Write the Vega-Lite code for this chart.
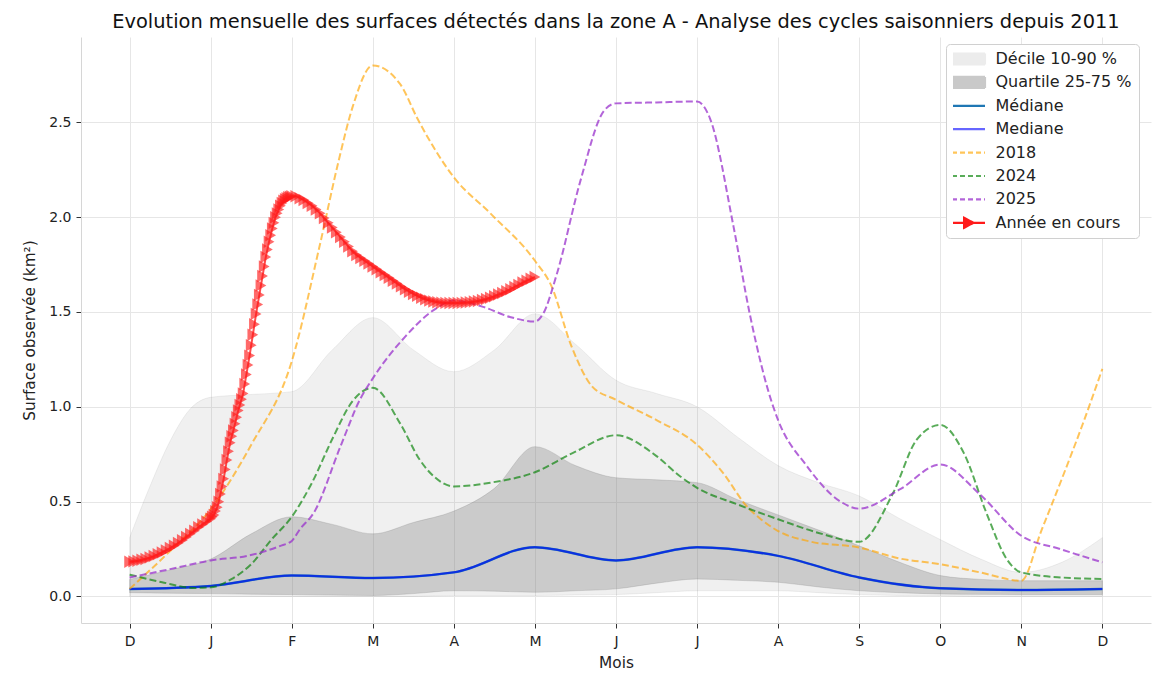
{
  "$schema": "https://vega.github.io/schema/vega-lite/v6.json",
  "width": 1070,
  "height": 586,
  "autosize": {"type": "none"},
  "padding": {"left": 81, "top": 37, "right": 12, "bottom": 60},
  "background": "white",
  "title": {"text": "Evolution mensuelle des surfaces détectés dans la zone A - Analyse des cycles saisonniers depuis 2011", "fontSize": 19.4, "fontWeight": "normal", "color": "#111", "anchor": "middle", "baseline": "alphabetic", "frame": "group", "offset": 10, "dy": 20},
  "datasets": {
    "bands": [
      {"serie": "Décile 10-90 %", "m": 0, "lo": 0, "hi": 0.31},
      {"serie": "Décile 10-90 %", "m": 0.25, "lo": 0, "hi": 0.58},
      {"serie": "Décile 10-90 %", "m": 0.5, "lo": 0, "hi": 0.82},
      {"serie": "Décile 10-90 %", "m": 0.75, "lo": 0, "hi": 0.99},
      {"serie": "Décile 10-90 %", "m": 1, "lo": 0, "hi": 1.05},
      {"serie": "Décile 10-90 %", "m": 1.5, "lo": 0, "hi": 1.065},
      {"serie": "Décile 10-90 %", "m": 2, "lo": 0, "hi": 1.08},
      {"serie": "Décile 10-90 %", "m": 2.5, "lo": 0, "hi": 1.3},
      {"serie": "Décile 10-90 %", "m": 3, "lo": 0, "hi": 1.47},
      {"serie": "Décile 10-90 %", "m": 3.5, "lo": 0, "hi": 1.3},
      {"serie": "Décile 10-90 %", "m": 4, "lo": 0.005, "hi": 1.185},
      {"serie": "Décile 10-90 %", "m": 4.5, "lo": 0.005, "hi": 1.3},
      {"serie": "Décile 10-90 %", "m": 5, "lo": 0.005, "hi": 1.49},
      {"serie": "Décile 10-90 %", "m": 5.5, "lo": 0.008, "hi": 1.33},
      {"serie": "Décile 10-90 %", "m": 6, "lo": 0.01, "hi": 1.14},
      {"serie": "Décile 10-90 %", "m": 6.5, "lo": 0.02, "hi": 1.07},
      {"serie": "Décile 10-90 %", "m": 7, "lo": 0.03, "hi": 1.0},
      {"serie": "Décile 10-90 %", "m": 7.5, "lo": 0.03, "hi": 0.84},
      {"serie": "Décile 10-90 %", "m": 8, "lo": 0.03, "hi": 0.69},
      {"serie": "Décile 10-90 %", "m": 8.5, "lo": 0.02, "hi": 0.6},
      {"serie": "Décile 10-90 %", "m": 9, "lo": 0.01, "hi": 0.53},
      {"serie": "Décile 10-90 %", "m": 9.5, "lo": 0.005, "hi": 0.41},
      {"serie": "Décile 10-90 %", "m": 10, "lo": 0.003, "hi": 0.3},
      {"serie": "Décile 10-90 %", "m": 10.5, "lo": 0, "hi": 0.197},
      {"serie": "Décile 10-90 %", "m": 11, "lo": 0, "hi": 0.127},
      {"serie": "Décile 10-90 %", "m": 11.5, "lo": 0, "hi": 0.18},
      {"serie": "Décile 10-90 %", "m": 12, "lo": 0, "hi": 0.31},
      {"serie": "Quartile 25-75 %", "m": 0, "lo": 0.02, "hi": 0.09},
      {"serie": "Quartile 25-75 %", "m": 0.5, "lo": 0.017, "hi": 0.14},
      {"serie": "Quartile 25-75 %", "m": 1, "lo": 0.015, "hi": 0.197},
      {"serie": "Quartile 25-75 %", "m": 1.5, "lo": 0.012, "hi": 0.33},
      {"serie": "Quartile 25-75 %", "m": 2, "lo": 0.01, "hi": 0.42},
      {"serie": "Quartile 25-75 %", "m": 2.5, "lo": 0.007, "hi": 0.38},
      {"serie": "Quartile 25-75 %", "m": 3, "lo": 0.005, "hi": 0.33},
      {"serie": "Quartile 25-75 %", "m": 3.5, "lo": 0.015, "hi": 0.39},
      {"serie": "Quartile 25-75 %", "m": 4, "lo": 0.03, "hi": 0.45},
      {"serie": "Quartile 25-75 %", "m": 4.5, "lo": 0.028, "hi": 0.57},
      {"serie": "Quartile 25-75 %", "m": 5, "lo": 0.022, "hi": 0.79},
      {"serie": "Quartile 25-75 %", "m": 5.5, "lo": 0.03, "hi": 0.69},
      {"serie": "Quartile 25-75 %", "m": 6, "lo": 0.04, "hi": 0.626},
      {"serie": "Quartile 25-75 %", "m": 6.5, "lo": 0.07, "hi": 0.615},
      {"serie": "Quartile 25-75 %", "m": 7, "lo": 0.092, "hi": 0.6},
      {"serie": "Quartile 25-75 %", "m": 7.5, "lo": 0.085, "hi": 0.51},
      {"serie": "Quartile 25-75 %", "m": 8, "lo": 0.075, "hi": 0.43},
      {"serie": "Quartile 25-75 %", "m": 8.5, "lo": 0.05, "hi": 0.35},
      {"serie": "Quartile 25-75 %", "m": 9, "lo": 0.03, "hi": 0.267},
      {"serie": "Quartile 25-75 %", "m": 9.5, "lo": 0.02, "hi": 0.18},
      {"serie": "Quartile 25-75 %", "m": 10, "lo": 0.013, "hi": 0.11},
      {"serie": "Quartile 25-75 %", "m": 10.5, "lo": 0.011, "hi": 0.09},
      {"serie": "Quartile 25-75 %", "m": 11, "lo": 0.01, "hi": 0.083},
      {"serie": "Quartile 25-75 %", "m": 11.5, "lo": 0.01, "hi": 0.083},
      {"serie": "Quartile 25-75 %", "m": 12, "lo": 0.01, "hi": 0.083}
    ],
    "lines": [
      {"serie": "Médiane", "m": 0, "v": 0.039}, {"serie": "Médiane", "m": 1, "v": 0.055}, {"serie": "Médiane", "m": 2, "v": 0.11}, {"serie": "Médiane", "m": 3, "v": 0.097}, {"serie": "Médiane", "m": 4, "v": 0.127}, {"serie": "Médiane", "m": 5, "v": 0.26}, {"serie": "Médiane", "m": 6, "v": 0.19}, {"serie": "Médiane", "m": 7, "v": 0.26}, {"serie": "Médiane", "m": 8, "v": 0.214}, {"serie": "Médiane", "m": 9, "v": 0.1}, {"serie": "Médiane", "m": 10, "v": 0.043}, {"serie": "Médiane", "m": 11, "v": 0.034}, {"serie": "Médiane", "m": 12, "v": 0.039},
      {"serie": "Mediane", "m": 0, "v": 0.039}, {"serie": "Mediane", "m": 1, "v": 0.055}, {"serie": "Mediane", "m": 2, "v": 0.11}, {"serie": "Mediane", "m": 3, "v": 0.097}, {"serie": "Mediane", "m": 4, "v": 0.127}, {"serie": "Mediane", "m": 5, "v": 0.26}, {"serie": "Mediane", "m": 6, "v": 0.19}, {"serie": "Mediane", "m": 7, "v": 0.26}, {"serie": "Mediane", "m": 8, "v": 0.214}, {"serie": "Mediane", "m": 9, "v": 0.1}, {"serie": "Mediane", "m": 10, "v": 0.043}, {"serie": "Mediane", "m": 11, "v": 0.034}, {"serie": "Mediane", "m": 12, "v": 0.039},
      {"serie": "2018", "m": 0, "v": 0.04}, {"serie": "2018", "m": 0.5, "v": 0.24}, {"serie": "2018", "m": 1, "v": 0.46}, {"serie": "2018", "m": 1.5, "v": 0.8}, {"serie": "2018", "m": 2, "v": 1.24}, {"serie": "2018", "m": 2.35, "v": 1.86}, {"serie": "2018", "m": 2.58, "v": 2.3}, {"serie": "2018", "m": 2.75, "v": 2.58}, {"serie": "2018", "m": 3, "v": 2.8}, {"serie": "2018", "m": 3.34, "v": 2.7}, {"serie": "2018", "m": 3.55, "v": 2.52}, {"serie": "2018", "m": 4, "v": 2.21}, {"serie": "2018", "m": 4.45, "v": 2.02}, {"serie": "2018", "m": 5, "v": 1.77}, {"serie": "2018", "m": 5.2, "v": 1.64}, {"serie": "2018", "m": 5.45, "v": 1.32}, {"serie": "2018", "m": 5.7, "v": 1.11}, {"serie": "2018", "m": 6, "v": 1.037}, {"serie": "2018", "m": 6.5, "v": 0.93}, {"serie": "2018", "m": 7, "v": 0.8}, {"serie": "2018", "m": 7.32, "v": 0.652}, {"serie": "2018", "m": 7.61, "v": 0.477}, {"serie": "2018", "m": 7.78, "v": 0.41}, {"serie": "2018", "m": 8, "v": 0.345}, {"serie": "2018", "m": 8.39, "v": 0.29}, {"serie": "2018", "m": 9, "v": 0.258}, {"serie": "2018", "m": 9.5, "v": 0.2}, {"serie": "2018", "m": 10, "v": 0.17}, {"serie": "2018", "m": 10.49, "v": 0.127}, {"serie": "2018", "m": 11, "v": 0.083}, {"serie": "2018", "m": 11.25, "v": 0.35}, {"serie": "2018", "m": 11.5, "v": 0.62}, {"serie": "2018", "m": 11.75, "v": 0.9}, {"serie": "2018", "m": 12, "v": 1.2},
      {"serie": "2024", "m": 0, "v": 0.115}, {"serie": "2024", "m": 0.4, "v": 0.075}, {"serie": "2024", "m": 0.8, "v": 0.045}, {"serie": "2024", "m": 1, "v": 0.048}, {"serie": "2024", "m": 1.25, "v": 0.09}, {"serie": "2024", "m": 1.5, "v": 0.17}, {"serie": "2024", "m": 1.75, "v": 0.3}, {"serie": "2024", "m": 2, "v": 0.42}, {"serie": "2024", "m": 2.25, "v": 0.6}, {"serie": "2024", "m": 2.5, "v": 0.83}, {"serie": "2024", "m": 2.75, "v": 1.03}, {"serie": "2024", "m": 3, "v": 1.1}, {"serie": "2024", "m": 3.34, "v": 0.91}, {"serie": "2024", "m": 3.58, "v": 0.72}, {"serie": "2024", "m": 3.75, "v": 0.634}, {"serie": "2024", "m": 4, "v": 0.58}, {"serie": "2024", "m": 4.45, "v": 0.6}, {"serie": "2024", "m": 5, "v": 0.655}, {"serie": "2024", "m": 5.47, "v": 0.757}, {"serie": "2024", "m": 6, "v": 0.85}, {"serie": "2024", "m": 6.5, "v": 0.74}, {"serie": "2024", "m": 6.79, "v": 0.634}, {"serie": "2024", "m": 7, "v": 0.573}, {"serie": "2024", "m": 7.5, "v": 0.485}, {"serie": "2024", "m": 8, "v": 0.407}, {"serie": "2024", "m": 8.5, "v": 0.335}, {"serie": "2024", "m": 9, "v": 0.288}, {"serie": "2024", "m": 9.42, "v": 0.547}, {"serie": "2024", "m": 9.71, "v": 0.827}, {"serie": "2024", "m": 10, "v": 0.905}, {"serie": "2024", "m": 10.29, "v": 0.757}, {"serie": "2024", "m": 10.57, "v": 0.44}, {"serie": "2024", "m": 10.82, "v": 0.197}, {"serie": "2024", "m": 11, "v": 0.127}, {"serie": "2024", "m": 11.5, "v": 0.1}, {"serie": "2024", "m": 12, "v": 0.092},
      {"serie": "2025", "m": 0, "v": 0.1}, {"serie": "2025", "m": 0.5, "v": 0.144}, {"serie": "2025", "m": 1, "v": 0.19}, {"serie": "2025", "m": 1.45, "v": 0.214}, {"serie": "2025", "m": 1.86, "v": 0.267}, {"serie": "2025", "m": 2, "v": 0.293}, {"serie": "2025", "m": 2.1, "v": 0.354}, {"serie": "2025", "m": 2.27, "v": 0.44}, {"serie": "2025", "m": 2.6, "v": 0.79}, {"serie": "2025", "m": 2.84, "v": 1.037}, {"serie": "2025", "m": 3, "v": 1.15}, {"serie": "2025", "m": 3.4, "v": 1.37}, {"serie": "2025", "m": 3.75, "v": 1.51}, {"serie": "2025", "m": 4, "v": 1.56}, {"serie": "2025", "m": 4.36, "v": 1.527}, {"serie": "2025", "m": 4.69, "v": 1.474}, {"serie": "2025", "m": 5, "v": 1.45}, {"serie": "2025", "m": 5.1, "v": 1.49}, {"serie": "2025", "m": 5.27, "v": 1.7}, {"serie": "2025", "m": 5.56, "v": 2.19}, {"serie": "2025", "m": 5.85, "v": 2.56}, {"serie": "2025", "m": 6, "v": 2.6}, {"serie": "2025", "m": 6.5, "v": 2.605}, {"serie": "2025", "m": 7, "v": 2.61}, {"serie": "2025", "m": 7.16, "v": 2.52}, {"serie": "2025", "m": 7.45, "v": 1.95}, {"serie": "2025", "m": 7.65, "v": 1.49}, {"serie": "2025", "m": 7.94, "v": 1.0}, {"serie": "2025", "m": 8, "v": 0.93}, {"serie": "2025", "m": 8.35, "v": 0.69}, {"serie": "2025", "m": 8.77, "v": 0.5}, {"serie": "2025", "m": 9, "v": 0.463}, {"serie": "2025", "m": 9.5, "v": 0.564}, {"serie": "2025", "m": 10, "v": 0.696}, {"serie": "2025", "m": 10.49, "v": 0.538}, {"serie": "2025", "m": 11, "v": 0.32}, {"serie": "2025", "m": 11.48, "v": 0.25}, {"serie": "2025", "m": 12, "v": 0.18}
    ],
    "current": [
      {"serie": "Année en cours", "m": 0, "v": 0.183}, {"serie": "Année en cours", "m": 0.05, "v": 0.185}, {"serie": "Année en cours", "m": 0.1, "v": 0.188}, {"serie": "Année en cours", "m": 0.15, "v": 0.193}, {"serie": "Année en cours", "m": 0.2, "v": 0.198}, {"serie": "Année en cours", "m": 0.25, "v": 0.205}, {"serie": "Année en cours", "m": 0.3, "v": 0.213}, {"serie": "Année en cours", "m": 0.35, "v": 0.222}, {"serie": "Année en cours", "m": 0.4, "v": 0.232}, {"serie": "Année en cours", "m": 0.45, "v": 0.243}, {"serie": "Année en cours", "m": 0.5, "v": 0.255}, {"serie": "Année en cours", "m": 0.55, "v": 0.268}, {"serie": "Année en cours", "m": 0.6, "v": 0.282}, {"serie": "Année en cours", "m": 0.65, "v": 0.297}, {"serie": "Année en cours", "m": 0.7, "v": 0.313}, {"serie": "Année en cours", "m": 0.75, "v": 0.33}, {"serie": "Année en cours", "m": 0.8, "v": 0.347}, {"serie": "Année en cours", "m": 0.85, "v": 0.365}, {"serie": "Année en cours", "m": 0.9, "v": 0.38}, {"serie": "Année en cours", "m": 0.95, "v": 0.395}, {"serie": "Année en cours", "m": 1, "v": 0.41},
      {"serie": "Année en cours", "m": 1.02, "v": 0.42}, {"serie": "Année en cours", "m": 1.04, "v": 0.43}, {"serie": "Année en cours", "m": 1.06, "v": 0.45}, {"serie": "Année en cours", "m": 1.08, "v": 0.47}, {"serie": "Année en cours", "m": 1.1, "v": 0.5}, {"serie": "Année en cours", "m": 1.12, "v": 0.54}, {"serie": "Année en cours", "m": 1.14, "v": 0.58}, {"serie": "Année en cours", "m": 1.16, "v": 0.62}, {"serie": "Année en cours", "m": 1.18, "v": 0.67}, {"serie": "Année en cours", "m": 1.2, "v": 0.72}, {"serie": "Année en cours", "m": 1.22, "v": 0.765}, {"serie": "Année en cours", "m": 1.24, "v": 0.81}, {"serie": "Année en cours", "m": 1.26, "v": 0.845}, {"serie": "Année en cours", "m": 1.28, "v": 0.875}, {"serie": "Année en cours", "m": 1.3, "v": 0.91}, {"serie": "Année en cours", "m": 1.32, "v": 0.945}, {"serie": "Année en cours", "m": 1.34, "v": 0.98}, {"serie": "Année en cours", "m": 1.36, "v": 1.01}, {"serie": "Année en cours", "m": 1.38, "v": 1.04}, {"serie": "Année en cours", "m": 1.4, "v": 1.07}, {"serie": "Année en cours", "m": 1.42, "v": 1.12}, {"serie": "Année en cours", "m": 1.44, "v": 1.17}, {"serie": "Année en cours", "m": 1.46, "v": 1.22}, {"serie": "Année en cours", "m": 1.48, "v": 1.27}, {"serie": "Année en cours", "m": 1.5, "v": 1.325}, {"serie": "Année en cours", "m": 1.52, "v": 1.38}, {"serie": "Année en cours", "m": 1.54, "v": 1.435}, {"serie": "Année en cours", "m": 1.56, "v": 1.49}, {"serie": "Année en cours", "m": 1.58, "v": 1.54}, {"serie": "Année en cours", "m": 1.6, "v": 1.59}, {"serie": "Année en cours", "m": 1.62, "v": 1.64}, {"serie": "Année en cours", "m": 1.64, "v": 1.69}, {"serie": "Année en cours", "m": 1.66, "v": 1.74}, {"serie": "Année en cours", "m": 1.68, "v": 1.79}, {"serie": "Année en cours", "m": 1.7, "v": 1.83}, {"serie": "Année en cours", "m": 1.72, "v": 1.87}, {"serie": "Année en cours", "m": 1.74, "v": 1.905}, {"serie": "Année en cours", "m": 1.76, "v": 1.94}, {"serie": "Année en cours", "m": 1.78, "v": 1.97}, {"serie": "Année en cours", "m": 1.8, "v": 2.0}, {"serie": "Année en cours", "m": 1.82, "v": 2.02}, {"serie": "Année en cours", "m": 1.84, "v": 2.04}, {"serie": "Année en cours", "m": 1.86, "v": 2.06}, {"serie": "Année en cours", "m": 1.88, "v": 2.075}, {"serie": "Année en cours", "m": 1.9, "v": 2.087}, {"serie": "Année en cours", "m": 1.92, "v": 2.095}, {"serie": "Année en cours", "m": 1.94, "v": 2.1}, {"serie": "Année en cours", "m": 1.96, "v": 2.105}, {"serie": "Année en cours", "m": 1.98, "v": 2.108}, {"serie": "Année en cours", "m": 2, "v": 2.11},
      {"serie": "Année en cours", "m": 2.05, "v": 2.11}, {"serie": "Année en cours", "m": 2.1, "v": 2.1}, {"serie": "Année en cours", "m": 2.15, "v": 2.09}, {"serie": "Année en cours", "m": 2.2, "v": 2.075}, {"serie": "Année en cours", "m": 2.25, "v": 2.06}, {"serie": "Année en cours", "m": 2.3, "v": 2.04}, {"serie": "Année en cours", "m": 2.35, "v": 2.02}, {"serie": "Année en cours", "m": 2.4, "v": 1.995}, {"serie": "Année en cours", "m": 2.45, "v": 1.97}, {"serie": "Année en cours", "m": 2.5, "v": 1.945}, {"serie": "Année en cours", "m": 2.55, "v": 1.92}, {"serie": "Année en cours", "m": 2.6, "v": 1.895}, {"serie": "Année en cours", "m": 2.65, "v": 1.87}, {"serie": "Année en cours", "m": 2.7, "v": 1.845}, {"serie": "Année en cours", "m": 2.75, "v": 1.82}, {"serie": "Année en cours", "m": 2.8, "v": 1.8}, {"serie": "Année en cours", "m": 2.85, "v": 1.785}, {"serie": "Année en cours", "m": 2.9, "v": 1.77}, {"serie": "Année en cours", "m": 2.95, "v": 1.755}, {"serie": "Année en cours", "m": 3, "v": 1.74}, {"serie": "Année en cours", "m": 3.05, "v": 1.725}, {"serie": "Année en cours", "m": 3.1, "v": 1.71}, {"serie": "Année en cours", "m": 3.15, "v": 1.695}, {"serie": "Année en cours", "m": 3.2, "v": 1.68}, {"serie": "Année en cours", "m": 3.25, "v": 1.665}, {"serie": "Année en cours", "m": 3.3, "v": 1.65}, {"serie": "Année en cours", "m": 3.35, "v": 1.635}, {"serie": "Année en cours", "m": 3.4, "v": 1.62}, {"serie": "Année en cours", "m": 3.45, "v": 1.607}, {"serie": "Année en cours", "m": 3.5, "v": 1.595}, {"serie": "Année en cours", "m": 3.55, "v": 1.585}, {"serie": "Année en cours", "m": 3.6, "v": 1.575}, {"serie": "Année en cours", "m": 3.65, "v": 1.567}, {"serie": "Année en cours", "m": 3.7, "v": 1.56}, {"serie": "Année en cours", "m": 3.75, "v": 1.555}, {"serie": "Année en cours", "m": 3.8, "v": 1.551}, {"serie": "Année en cours", "m": 3.85, "v": 1.549}, {"serie": "Année en cours", "m": 3.9, "v": 1.548}, {"serie": "Année en cours", "m": 3.95, "v": 1.547}, {"serie": "Année en cours", "m": 4, "v": 1.547}, {"serie": "Année en cours", "m": 4.05, "v": 1.547}, {"serie": "Année en cours", "m": 4.1, "v": 1.548}, {"serie": "Année en cours", "m": 4.15, "v": 1.55}, {"serie": "Année en cours", "m": 4.2, "v": 1.552}, {"serie": "Année en cours", "m": 4.25, "v": 1.555}, {"serie": "Année en cours", "m": 4.3, "v": 1.558}, {"serie": "Année en cours", "m": 4.35, "v": 1.563}, {"serie": "Année en cours", "m": 4.4, "v": 1.568}, {"serie": "Année en cours", "m": 4.45, "v": 1.575}, {"serie": "Année en cours", "m": 4.5, "v": 1.583}, {"serie": "Année en cours", "m": 4.55, "v": 1.592}, {"serie": "Année en cours", "m": 4.6, "v": 1.6}, {"serie": "Année en cours", "m": 4.65, "v": 1.61}, {"serie": "Année en cours", "m": 4.7, "v": 1.62}, {"serie": "Année en cours", "m": 4.75, "v": 1.632}, {"serie": "Année en cours", "m": 4.8, "v": 1.643}, {"serie": "Année en cours", "m": 4.85, "v": 1.655}, {"serie": "Année en cours", "m": 4.9, "v": 1.665}, {"serie": "Année en cours", "m": 4.95, "v": 1.675}, {"serie": "Année en cours", "m": 5, "v": 1.685}
    ]
  },
  "encoding": {
    "x": {"field": "m", "type": "quantitative", "scale": {"domain": [-0.6, 12.6], "nice": false, "zero": false},
      "axis": {"title": "Mois", "values": [0,1,2,3,4,5,6,7,8,9,10,11,12], "labelExpr": "['D','J','F','M','A','M','J','J','A','S','O','N','D'][datum.value]", "labelPadding": 6, "titlePadding": 7, "labelFlush": false}}
  },
  "layer": [
    {"data": {"name": "bands"}, "transform": [{"filter": "datum.serie === 'Décile 10-90 %'"}],
     "mark": {"type": "area", "interpolate": "monotone", "fill": "#808080", "fillOpacity": 0.12, "stroke": "#808080", "strokeOpacity": 0.12, "strokeWidth": 1},
     "encoding": {"y": {"field": "lo", "type": "quantitative", "scale": {"domain": [-0.14, 2.95], "nice": false, "zero": false},
        "axis": {"title": "Surface observée (km²)", "values": [0, 0.5, 1, 1.5, 2, 2.5], "format": ".1f", "labelPadding": 5, "titlePadding": 11}},
       "y2": {"field": "hi"}}},
    {"data": {"name": "bands"}, "transform": [{"filter": "datum.serie === 'Quartile 25-75 %'"}],
     "mark": {"type": "area", "interpolate": "monotone", "fill": "#808080", "fillOpacity": 0.33, "stroke": "#808080", "strokeOpacity": 0.25, "strokeWidth": 1},
     "encoding": {"y": {"field": "lo", "type": "quantitative"}, "y2": {"field": "hi"}}},
    {"data": {"name": "lines"}, "transform": [{"filter": "datum.serie === 'Médiane'"}],
     "mark": {"type": "line", "interpolate": "monotone", "strokeWidth": 2.5},
     "encoding": {"y": {"field": "v", "type": "quantitative"},
       "color": {"field": "serie", "type": "nominal",
        "scale": {"domain": ["Décile 10-90 %", "Quartile 25-75 %", "Médiane", "Mediane", "2018", "2024", "2025", "Année en cours"],
                  "range": ["#ececec", "#c9c9c9", "#1f77b4", "#6666ff", "#ffc559", "#59ac59", "#b365d9", "#ff1a1a"]},
        "legend": {
          "title": null, "orient": "none", "legendX": 865, "legendY": 7, "direction": "vertical",
          "labelFontSize": 16, "labelColor": "#222", "labelFont": "DejaVu Sans",
          "symbolSize": 121, "symbolStrokeWidth": 2.2, "symbolOffset": -3.5, "labelOffset": 30, "rowPadding": 7.4, "padding": 7, "clipHeight": 16,
          "strokeColor": "#d0d0d0", "fillColor": "#ffffff", "cornerRadius": 4,
          "encode": {"symbols": {"update": {
            "shape": {"signal": "(datum.value === 'Décile 10-90 %' || datum.value === 'Quartile 25-75 %') ? 'M-1,-1H5V1H-1Z' : (datum.value === 'Année en cours' ? 'M-1,0H5M1.2,-0.9L2.9,0L1.2,0.9Z' : 'M-1,0H5')"},
            "strokeDash": {"signal": "(datum.value === '2018' || datum.value === '2024' || datum.value === '2025') ? [5, 3] : [1, 0]"},
            "opacity": {"value": 1}
          }}}
        }}}},
    {"data": {"name": "lines"}, "transform": [{"filter": "datum.serie === 'Mediane'"}],
     "mark": {"type": "line", "interpolate": "monotone", "strokeWidth": 2, "stroke": "#0000ff", "opacity": 0.6},
     "encoding": {"y": {"field": "v", "type": "quantitative"}}},
    {"data": {"name": "lines"}, "transform": [{"filter": "datum.serie === '2018'"}],
     "mark": {"type": "line", "interpolate": "monotone", "strokeWidth": 2, "stroke": "#ffa500", "opacity": 0.65, "strokeDash": [7, 3.2]},
     "encoding": {"y": {"field": "v", "type": "quantitative"}}},
    {"data": {"name": "lines"}, "transform": [{"filter": "datum.serie === '2024'"}],
     "mark": {"type": "line", "interpolate": "monotone", "strokeWidth": 2, "stroke": "#008000", "opacity": 0.65, "strokeDash": [7, 3.2]},
     "encoding": {"y": {"field": "v", "type": "quantitative"}}},
    {"data": {"name": "lines"}, "transform": [{"filter": "datum.serie === '2025'"}],
     "mark": {"type": "line", "interpolate": "monotone", "strokeWidth": 2, "stroke": "#9932cc", "opacity": 0.75, "strokeDash": [7, 3.2]},
     "encoding": {"y": {"field": "v", "type": "quantitative"}}},
    {"data": {"name": "current"},
     "mark": {"type": "line", "interpolate": "monotone", "strokeWidth": 2, "stroke": "#ff0000", "opacity": 0.7},
     "encoding": {"y": {"field": "v", "type": "quantitative"}}},
    {"data": {"name": "current"},
     "mark": {"type": "point", "shape": "triangle-right", "filled": true, "size": 155, "opacity": 0.65, "strokeWidth": 0.8},
     "encoding": {"y": {"field": "v", "type": "quantitative"},
       "color": {"field": "serie", "type": "nominal"}}}
  ],
  "resolve": {"scale": {"y": "shared"}},
  "config": {
    "font": "DejaVu Sans",
    "view": {"stroke": null},
    "axis": {"gridColor": "#e6e6e6", "gridWidth": 1, "domainColor": "#d6d6d6", "tickColor": "#333333", "tickSize": 5, "labelFontSize": 14, "labelColor": "#222222", "titleFontSize": 15.3, "titleFontWeight": "normal", "titleColor": "#222222", "labelFont": "DejaVu Sans", "titleFont": "DejaVu Sans"}
  }
}
